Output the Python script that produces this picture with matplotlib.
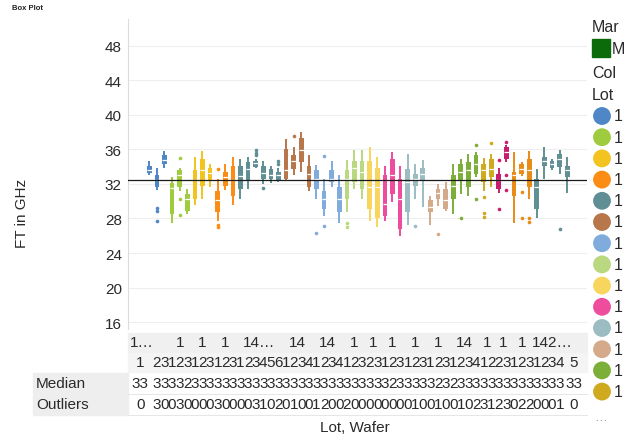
import numpy as np
import matplotlib.pyplot as plt
from matplotlib.patches import Rectangle
from matplotlib.transforms import blended_transform_factory

plt.rcParams['font.family'] = ['Liberation Sans', 'DejaVu Sans']

W, H = 634, 439

# lots (header labels are truncated in the picture)
lot_labels = ["1…", "1", "1", "1", "14…", "14", "14", "1", "1", "1", "1", "1", "14", "1", "1", "1", "142…"]
lot_sizes = [3, 3, 3, 3, 6, 4, 4, 3, 2, 3, 3, 3, 4, 2, 2, 3, 5]
lot_colors = ["#4f86c6", "#9fcb3e", "#f3c31f", "#fb8c14", "#5f8f95", "#b8764b",
              "#80abdd", "#b9d87f", "#f8d55c", "#ee4c9c", "#9bbdc1", "#d5aa8b",
              "#7cae3a", "#cfaa1e", "#c81d6e", "#e98b17", "#628f93"]

wafers = ["1", "2", "3", "1", "2", "3", "1", "2", "3", "1", "2", "3",
          "1", "2", "3", "4", "5", "6", "1", "2", "3", "4", "1", "2", "3", "4",
          "1", "2", "3", "2", "3", "1", "2", "3", "1", "2", "3", "1", "2", "3",
          "1", "2", "3", "4", "1", "2", "2", "3", "1", "2", "3", "1", "2", "3", "4", "5"]

# FT in GHz, box statistics per wafer
wlo = [33.0, 31.3, 33.9, 27.5, 31.2, 28.5, 29.6, 30.3, 31.6, 27.7,
       31.3, 29.6, 30.3, 31.4, 33.8, 32.0, 32.1, 32.2, 32.4, 33.0,
       33.4, 31.2, 30.3, 28.3, 31.7, 27.5, 28.7, 31.4, 30.3, 27.7,
       27.0, 27.7, 29.9, 26.0, 27.3, 30.3, 29.3, 27.3, 29.5, 28.9,
       28.5, 30.8, 30.6, 32.8, 31.2, 31.6, 31.0, 34.5, 27.5, 32.9,
       30.3, 28.0, 32.6, 33.6, 33.2, 31.0]
q1 = [33.3, 31.6, 34.3, 28.5, 31.6, 28.9, 30.3, 31.8, 32.4, 28.7,
      31.8, 30.6, 31.4, 32.4, 34.0, 32.6, 32.6, 32.4, 32.6, 33.7,
      34.5, 31.6, 31.4, 29.1, 32.2, 28.7, 30.3, 32.2, 31.4, 29.1,
      28.1, 28.3, 30.8, 26.8, 28.7, 31.8, 32.4, 28.8, 30.3, 29.1,
      30.3, 32.5, 31.6, 33.2, 32.2, 32.8, 31.4, 34.9, 30.6, 33.2,
      31.6, 29.1, 34.1, 33.9, 34.0, 32.8]
med = [33.6, 32.4, 34.8, 31.5, 33.0, 30.2, 32.4, 33.6, 33.3, 30.1,
       32.8, 32.4, 32.9, 33.7, 34.4, 33.3, 33.0, 33.0, 33.6, 34.7,
       35.9, 33.2, 32.6, 30.3, 32.6, 30.2, 32.6, 33.9, 33.4, 31.7,
       31.6, 29.7, 33.0, 30.3, 32.2, 32.6, 33.2, 29.3, 31.0, 30.1,
       31.8, 33.4, 33.6, 34.3, 33.6, 33.7, 32.4, 35.7, 33.0, 33.7,
       33.6, 31.6, 34.7, 34.3, 34.9, 33.6]
q3 = [34.1, 33.0, 35.3, 32.1, 33.6, 30.8, 33.6, 34.9, 33.9, 31.2,
      33.4, 34.1, 34.1, 34.5, 34.7, 34.1, 33.7, 33.4, 36.1, 35.3,
      37.3, 34.1, 33.6, 31.2, 33.6, 31.7, 33.6, 34.7, 34.7, 34.7,
      33.9, 33.0, 34.9, 32.6, 33.7, 33.2, 33.9, 30.1, 31.4, 31.4,
      33.0, 34.3, 34.5, 35.3, 34.3, 34.9, 33.2, 36.3, 33.4, 34.3,
      34.9, 32.6, 35.1, 34.7, 35.5, 34.1]
whi = [34.6, 33.8, 35.8, 32.8, 33.9, 31.4, 35.1, 35.8, 34.3, 32.6,
       34.3, 35.1, 34.9, 35.1, 34.9, 34.6, 34.1, 33.9, 37.2, 36.3,
       38.0, 35.4, 34.2, 32.6, 34.7, 33.0, 34.8, 35.9, 35.9, 36.3,
       35.1, 34.1, 35.7, 34.1, 35.5, 34.3, 34.8, 30.6, 32.0, 32.2,
       34.3, 34.9, 35.5, 35.7, 35.0, 35.5, 33.9, 36.5, 35.7, 34.5,
       35.8, 33.7, 36.3, 34.9, 35.9, 35.1]
outliers = [[], [29.2, 28.9, 27.7], [], [], [35.0, 30.3, 28.4], [], [], [], [], [33.7, 27.2, 27.0],
            [], [], [], [], [35.3, 35.6, 35.9], [31.5], [], [34.3, 34.6], [], [37.5],
            [], [], [26.3], [35.2, 27.1], [], [], [27.5, 27.0], [], [], [],
            [], [], [], [], [], [27.1], [], [], [26.2], [],
            [], [28.1], [], [36.5, 30.3], [30.5, 28.6, 28.2], [36.7], [34.8, 29.1], [36.9, 33.0, 31.3], [], [31.1, 28.1],
            [28.0, 27.6], [], [], [], [26.8], []]

# "Median" row as displayed (narrow cells show one digit)
median_row = ["33"] + list("33332" "3333333333" "3333333333" "333333" "2" "33333" "232" "33333333333333") + ["33"]

ref_line = 32.45
yticks = [16, 20, 24, 28, 32, 36, 40, 44, 48]


def fx(px):
    return px / W


def fy(py):
    return 1 - py / H


fig = plt.figure(figsize=(W / 100, H / 100), dpi=100)
fig.text(fx(12), fy(8), "Box Plot", fontsize=5.5, fontweight='bold', va='center', color='#222222')

ax = fig.add_axes([fx(128), fy(330), fx(587) - fx(128), fy(20) - fy(330)])
pos = np.arange(len(med))
colors = np.repeat(lot_colors, lot_sizes)
for k in pos:
    c = colors[k]
    ax.vlines(k, wlo[k], whi[k], color=c, lw=1.4, zorder=2)
    ax.bar(k, q3[k] - q1[k], bottom=q1[k], width=0.62, color=c, linewidth=0, zorder=3)
    ax.hlines(med[k], k - 0.31, k + 0.31, color='white', lw=0.9, zorder=4)
    if outliers[k]:
        ax.plot([k] * len(outliers[k]), outliers[k], 'o', ms=2.6, mew=0, color=c, zorder=4)
ax.axhline(ref_line, color='#1a1a1a', lw=0.9, zorder=5)

ax.set_xlim(-2.8, 57.6)
ax.set_ylim(15.2, 51.1)
ax.set_yticks(yticks)
ax.set_xticks([])
ax.tick_params(axis='y', length=0, pad=4.5, labelsize=11, labelcolor='#2a2a2a')
for s in ['top', 'right', 'bottom']:
    ax.spines[s].set_visible(False)
ax.spines['left'].set_color('#dcdcdc')
ax.grid(axis='y', color='#eeeeee', lw=0.8)
ax.set_axisbelow(True)

fig.text(fx(22), fy(213), "FT in GHz", rotation=90, ha='center', va='center', fontsize=11, color='#2a2a2a')

# table below the plot
fig.add_artist(Rectangle((fx(128), fy(353)), fx(587) - fx(128), fy(334) - fy(353),
                         transform=fig.transFigure, color='#f0f0f0', zorder=0))
fig.add_artist(Rectangle((fx(128), fy(373)), fx(587) - fx(128), fy(354) - fy(373),
                         transform=fig.transFigure, color='#f4f4f4', zorder=0))
fig.add_artist(Rectangle((fx(33), fy(394.5)), fx(128) - fx(33), fy(374) - fy(394.5),
                         transform=fig.transFigure, color='#eeeeee', zorder=0))
fig.add_artist(Rectangle((fx(33), fy(416)), fx(128) - fx(33), fy(395.5) - fy(416),
                         transform=fig.transFigure, color='#eeeeee', zorder=0))
for yl in [395, 416]:
    fig.add_artist(plt.Line2D([fx(128), fx(587)], [fy(yl), fy(yl)], transform=fig.transFigure,
                              color='#e6e6e6', lw=0.7))

trans = blended_transform_factory(ax.transData, fig.transFigure)
tkw = dict(transform=trans, ha='center', va='center', fontsize=11, color='#2a2a2a', clip_on=False)

start = 0
for i, (lab, n) in enumerate(zip(lot_labels, lot_sizes)):
    xc = start + (n - 1) / 2
    if i == 0:
        xc = -1.0
    ax.text(xc, fy(343), lab, **tkw)
    start += n

n_cols = len(med)
for k in pos:
    xk = k
    if k == 0:
        xk = -1.2
    elif k == n_cols - 1:
        xk = k + 0.9
    ax.text(xk, fy(363), wafers[k], **tkw)
    ax.text(xk, fy(384), median_row[k], **tkw)
    ax.text(xk, fy(405), str(len(outliers[k])), **tkw)

fig.text(fx(36), fy(384), "Median", ha='left', va='center', fontsize=11, color='#2a2a2a')
fig.text(fx(36), fy(405), "Outliers", ha='left', va='center', fontsize=11, color='#2a2a2a')
fig.text(fx(355), fy(428), "Lot, Wafer", ha='center', va='center', fontsize=11, color='#2a2a2a')

# legend (cut off at the right edge)
lax = fig.add_axes([fx(588), 0, fx(634) - fx(588), 1])
lax.set_xlim(588, 634)
lax.set_ylim(439, 0)
lax.axis('off')
lkw = dict(ha='left', va='center', fontsize=11.5, color='#2a2a2a', clip_on=False)
lax.text(592, 28, "Mar", **lkw)
lax.add_patch(Rectangle((592, 40), 18, 18, color='#0b6b0b'))
lax.text(612, 49, "M", **lkw)
lax.text(592, 74, "Col", **lkw)
lax.text(592, 95, "Lot", **lkw)
n_leg = 14
leg_y = 117 + 21.2 * np.arange(n_leg)
lax.scatter([602] * n_leg, leg_y, s=165, c=lot_colors[:n_leg], linewidths=0, clip_on=False)
for i in range(n_leg):
    lax.text(614, leg_y[i], lot_labels[i][:1], **lkw)
lax.text(594, 418, "…", ha='left', va='center', fontsize=9, color='#888888')

fig.savefig("out.png", dpi=100)
